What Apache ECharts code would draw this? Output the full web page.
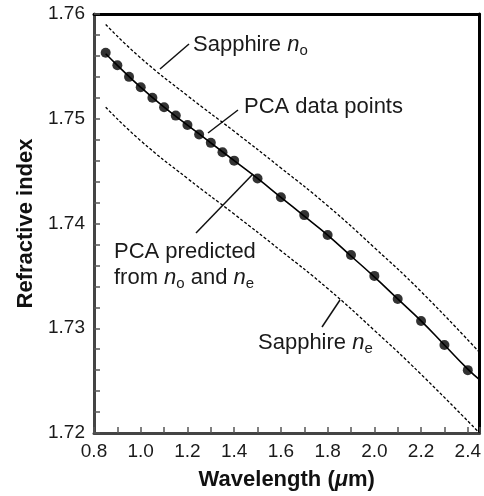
<!DOCTYPE html>
<html>
<head>
    <meta charset="utf-8">
    <title>Refractive index</title>
    <script src="https://cdn.jsdelivr.net/npm/echarts@6/dist/echarts.min.js"></script>
</head>
<body style="margin:0">
    <div id="main" style="width: 484px;height:496px;"></div>
    <script type="text/javascript">
        // PCA measured points (wavelength in um, refractive index)
        var pointWl = [0.85, 0.9, 0.95, 1.0, 1.05, 1.1, 1.15, 1.2, 1.25, 1.3, 1.35, 1.4,
            1.5, 1.6, 1.7, 1.8, 1.9, 2.0, 2.1, 2.2, 2.3, 2.4];
        var pointN = [1.7563, 1.7551, 1.7540, 1.7530, 1.7520, 1.7511, 1.7503, 1.7494, 1.7485, 1.7477, 1.7468, 1.7460,
            1.7443, 1.7425, 1.7408, 1.7389, 1.7370, 1.7350, 1.7328, 1.7307, 1.7284, 1.7260];

        // PCA predicted from no and ne (solid curve)
        var predWl = [0.85, 0.9, 1.0, 1.1, 1.2, 1.3, 1.4, 1.5, 1.6, 1.7, 1.8, 1.9, 2.0, 2.1, 2.2, 2.3, 2.4, 2.45];
        var predN = [1.7562, 1.7551, 1.7530, 1.7511, 1.7494, 1.7477, 1.7460, 1.7443, 1.7425, 1.7407, 1.7389,
            1.7369, 1.7349, 1.7328, 1.7307, 1.7284, 1.7261, 1.7251];

        // sapphire ordinary / extraordinary (dashed curves)
        var sapphWl = [0.85, 1.0, 1.2, 1.4, 1.6, 1.8, 2.0, 2.2, 2.45];
        var sapphNo = [1.7590, 1.7558, 1.7522, 1.7488, 1.7453, 1.7417, 1.7377, 1.7335, 1.7277];
        var sapphNe = [1.7511, 1.7479, 1.7443, 1.7409, 1.7374, 1.7338, 1.7298, 1.7256, 1.7200];

        function pairs(xs, ys) {
            return xs.map(function (x, i) { return [x, ys[i]]; });
        }

        var font = 'Liberation Sans, Arial, sans-serif';
        var sub = function (main, s) {
            return '{a|' + main + '}{n|n}{s|' + s + '}';
        };
        var richStyle = {
            a: { fontSize: 22, lineHeight: 26, fontFamily: font },
            n: { fontSize: 22, lineHeight: 26, fontStyle: 'italic', fontFamily: font },
            s: { fontSize: 15, lineHeight: 16, verticalAlign: 'bottom', fontFamily: font }
        };

        function label(x, y, text) {
            return {
                type: 'text',
                x: x,
                y: y,
                style: {
                    text: text,
                    rich: richStyle,
                    fill: '#1a1a1a',
                    font: '22px ' + font,
                    verticalAlign: 'middle'
                }
            };
        }

        function leader(x1, y1, x2, y2) {
            return {
                type: 'line',
                shape: { x1: x1, y1: y1, x2: x2, y2: y2 },
                style: { stroke: '#111', lineWidth: 1.5 }
            };
        }

        // plain frame axis for top / right borders
        function frame(pos) {
            return {
                type: 'value',
                position: pos,
                min: pos === 'top' ? 0.8 : 1.72,
                max: pos === 'top' ? 2.45 : 1.76,
                axisLine: { show: true, lineStyle: { color: '#000', width: 3 } },
                axisTick: { show: false },
                axisLabel: { show: false },
                splitLine: { show: false }
            };
        }

        var tickStyle = { color: '#555', width: 1.5 };

        var myChart = echarts.init(document.getElementById('main'));
        var option = {
            backgroundColor: '#fff',
            animation: false,
            grid: {
                left: 94,
                right: 2,
                top: 14,
                bottom: 62
            },
            xAxis: [{
                type: 'value',
                min: 0.8,
                max: 2.45,
                interval: 0.2,
                name: 'Wavelength ({m|μ}m)',
                nameLocation: 'middle',
                nameGap: 36,
                nameTextStyle: {
                    fontSize: 22,
                    fontWeight: 'bold',
                    color: '#111',
                    fontFamily: font,
                    rich: {
                        m: { fontSize: 22, fontWeight: 'bold', fontStyle: 'italic', color: '#111', fontFamily: font }
                    }
                },
                axisLine: { onZero: false, lineStyle: { color: '#444', width: 3 } },
                axisTick: { inside: true, length: 6, lineStyle: tickStyle },
                minorTick: { show: true, splitNumber: 2, length: 6, lineStyle: tickStyle },
                splitLine: { show: false },
                axisLabel: {
                    fontSize: 19,
                    color: '#1a1a1a',
                    fontFamily: font,
                    margin: 9,
                    showMaxLabel: false,
                    formatter: function (v) { return v.toFixed(1); }
                }
            }, frame('top')],
            yAxis: [{
                type: 'value',
                min: 1.72,
                max: 1.76,
                interval: 0.01,
                name: 'Refractive index',
                nameLocation: 'middle',
                nameGap: 57,
                nameTextStyle: { fontSize: 22, fontWeight: 'bold', color: '#111', fontFamily: font },
                axisLine: { onZero: false, lineStyle: { color: '#444', width: 3 } },
                axisTick: { inside: true, length: 6, lineStyle: tickStyle },
                minorTick: { show: true, splitNumber: 5, length: 6, lineStyle: tickStyle },
                splitLine: { show: false },
                axisLabel: {
                    fontSize: 19,
                    color: '#1a1a1a',
                    fontFamily: font,
                    margin: 9,
                    formatter: function (v) { return v.toFixed(2); }
                }
            }, frame('right')],
            series: [{
                name: 'Sapphire no',
                type: 'line',
                smooth: true,
                showSymbol: false,
                data: pairs(sapphWl, sapphNo),
                lineStyle: { color: '#000', width: 1.3, type: [3, 2] }
            }, {
                name: 'Sapphire ne',
                type: 'line',
                smooth: true,
                showSymbol: false,
                data: pairs(sapphWl, sapphNe),
                lineStyle: { color: '#000', width: 1.3, type: [3, 2] }
            }, {
                name: 'PCA predicted',
                type: 'line',
                smooth: true,
                showSymbol: false,
                data: pairs(predWl, predN),
                lineStyle: { color: '#000', width: 1.6 }
            }, {
                name: 'PCA data points',
                type: 'scatter',
                symbol: 'circle',
                symbolSize: 10,
                itemStyle: { color: '#000' },
                data: pairs(pointWl, pointN)
            }],
            graphic: [
                label(193, 45, sub('Sapphire ', 'o')),
                leader(160, 69, 189, 44),
                label(244, 107, '{a|PCA data points}'),
                leader(208, 133, 238, 110),
                label(114, 265, '{a|PCA predicted}\n' + sub('from ', 'o') + '{a| and }{n|n}{s|e}'),
                leader(196, 233, 253, 174),
                label(258, 343, sub('Sapphire ', 'e')),
                leader(322, 327, 340, 300)
            ]
        };
        myChart.setOption(option);
    </script>
</body>
</html>
